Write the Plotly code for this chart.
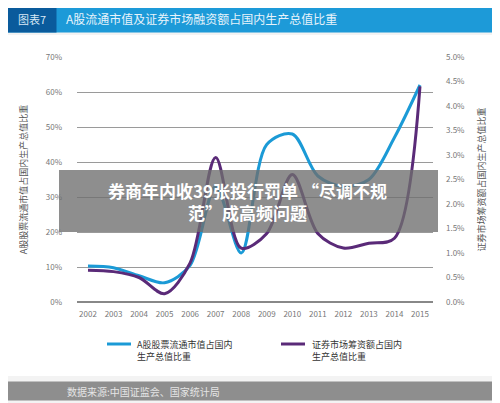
import plotly.graph_objects as go

years = list(range(2002, 2016))
blue = [10.3, 9.8, 7.5, 5.5, 10.5, 33, 14, 45, 48, 36, 33, 35, 47, 62]
purple = [0.65, 0.62, 0.5, 0.17, 0.8, 2.95, 1.1, 1.4, 2.6, 1.4, 1.1, 1.2, 1.3, 4.4]
left_ticks = [0, 10, 20, 30, 40, 50, 60, 70]
right_ticks = [0, 0.5, 1, 1.5, 2, 2.5, 3, 3.5, 4, 4.5, 5]
name_blue = "A股股票流通市值占国内<br>生产总值比重"
name_purple = "证券市场筹资额占国内<br>生产总值比重"
c_blue, c_purple = "#1b9ad6", "#5a2a78"

F = "Noto Sans CJK SC"
O = 8  # page body margin offset
W, H = 356, 245
def px(x): return (x - 77) / W
def py(y): return (302 - y) / H

fig = go.Figure()
fig.add_trace(go.Scatter(x=years, y=blue, mode="lines", name=name_blue,
                         line=dict(color=c_blue, width=3, shape="spline", smoothing=0.9)))
fig.add_trace(go.Scatter(x=years, y=purple, mode="lines", name=name_purple, yaxis="y2",
                         line=dict(color=c_purple, width=3, shape="spline", smoothing=0.9)))

fig.update_layout(
    width=500 - O, height=403 - O, margin=dict(l=77 - O, r=67, t=57 - O, b=101, autoexpand=False),
    paper_bgcolor="#f3f3f3", plot_bgcolor="rgba(0,0,0,0)", showlegend=False,
    font=dict(family=F, size=9, color="#666"),
    xaxis=dict(range=[2001.57, 2015.51], tickvals=years, showgrid=False, zeroline=False, automargin=False,
               tickfont=dict(size=8, color="#777"), ticks="", ticklabelstandoff=6),
    yaxis=dict(range=[0, 70], tickvals=left_ticks, ticktext=[f"{v}%" for v in left_ticks], automargin=False,
               gridcolor="#9a9a9a", gridwidth=1, zeroline=True, zerolinecolor="#888", zerolinewidth=2,
               tickfont=dict(size=8, color="#777"), ticklabelstandoff=14,
               title=dict(text="A股股票流通市值占国内生产总值比重", font=dict(size=9, color="#555"), standoff=16)),
    yaxis2=dict(range=[0, 5], overlaying="y", side="right", tickvals=right_ticks, automargin=False,
                ticktext=[f"{v:.1f}%" for v in right_ticks], showgrid=False, zeroline=False,
                tickfont=dict(size=8, color="#777"), ticklabelstandoff=12,
                title=dict(text="证券市场筹资额占国内生产总值比重", font=dict(size=9, color="#555"), standoff=14)),
)
shapes = [
    dict(type="rect", xref="paper", yref="paper", x0=px(7), x1=px(493), y0=py(376), y1=py(35),
         fillcolor="white", line_width=0, layer="below"),
    dict(type="rect", xref="paper", yref="paper", x0=px(59), x1=px(438), y0=py(232), y1=py(170),
         fillcolor="rgba(110,110,110,0.78)", line_width=0),
    dict(type="line", xref="paper", yref="paper", x0=px(107), x1=px(131), y0=py(344), y1=py(344),
         line=dict(color=c_blue, width=3)),
    dict(type="line", xref="paper", yref="paper", x0=px(281), x1=px(305), y0=py(344), y1=py(344),
         line=dict(color=c_purple, width=3)),
]
M = dict(xref="paper", yref="paper", showarrow=False, yanchor="middle")
ann = [
    dict(text="", x=px(7), xanchor="left", y=py(18.5), width=486, height=27, bgcolor="#1d9ad8",
         borderpad=0, **M),
    dict(text="图表7", x=px(7), xanchor="left", y=py(18.5), width=48, height=27, bgcolor="#0a5b9c",
         borderpad=0, font=dict(size=11, color="#d8e8f5", family=F), **M),
    dict(text="A股流通市值及证券市场融资额占国内生产总值比重", x=px(64), xanchor="left", y=py(18.5),
         font=dict(size=12, color="#e6f3fb", family=F), **M),
    dict(text="", x=px(7), xanchor="left", y=py(391), width=486, height=18, bgcolor="#8e8e8e",
         borderpad=0, **M),
    dict(text="数据来源:中国证监会、国家统计局", x=px(65), xanchor="left", y=py(391),
         font=dict(size=10, color="#e5e5e5", family=F), **M),
    dict(text="<b>券商年内收39张投行罚单 “尽调不规<br>范”成高频问题</b>", x=px(247), y=py(201),
         font=dict(size=17, color="white", family=F), align="center", **M),
    dict(text=name_blue, x=px(135), xanchor="left", y=py(350), align="left",
         font=dict(size=9, color="#333", family=F), **M),
    dict(text=name_purple, x=px(310), xanchor="left", y=py(350), align="left",
         font=dict(size=9, color="#333", family=F), **M),
]
fig.update_layout(shapes=shapes, annotations=ann)
fig.write_html("out.html", config={"displayModeBar": False})
